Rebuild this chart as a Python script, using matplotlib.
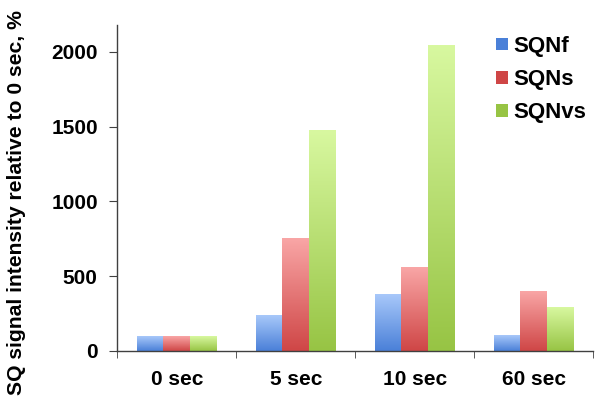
import numpy as np
import matplotlib
matplotlib.use("Agg")
import matplotlib.pyplot as plt
from matplotlib.colors import LinearSegmentedColormap
from matplotlib.patches import Patch


categories = ["0 sec", "5 sec", "10 sec", "60 sec"]

series_names = ["SQNf", "SQNs", "SQNvs"]

sqnf = [100, 236, 381, 105]
sqns = [100, 753, 559, 396]
sqnvs = [100, 1477, 2042, 292]

y_ticks = [0, 500, 1000, 1500, 2000]

# (bottom colour, top colour) for each series
gradients = [
    ("#4a80d8", "#a8c8fa"),
    ("#cf4646", "#f9a6a6"),
    ("#97c444", "#d8f8a0"),
]

plt.rcParams["font.family"] = ["Liberation Sans", "DejaVu Sans"]
plt.rcParams["font.weight"] = "bold"

fig = plt.figure(figsize=(6.01, 4.07), dpi=100)
ax = fig.add_axes([0.195, 0.1376, 0.792, 0.801])

x = np.arange(len(categories))
width = 0.225
offsets = [-width, 0, width]

grad = np.linspace(0, 1, 256).reshape(-1, 1)

for values, offset, (c0, c1) in zip([sqnf, sqns, sqnvs], offsets, gradients):
    cmap = LinearSegmentedColormap.from_list("g", [c0, c1])
    for xi, v in zip(x, values):
        x0 = xi + offset - width / 2
        ax.imshow(
            grad,
            cmap=cmap,
            origin="lower",
            extent=[x0, x0 + width, 0, v],
            aspect="auto",
            zorder=2,
        )

ax.set_xlim(-0.5, 3.5)
ax.set_ylim(0, 2180)

ax.set_xticks(x)
ax.set_xticklabels(categories, fontsize=15, fontweight="bold")
ax.tick_params(axis="x", which="major", length=0, pad=14)
ax.set_xticks(np.arange(-0.5, 4.0, 1.0), minor=True)
ax.tick_params(axis="x", which="minor", length=5, color="#404040")

ax.set_yticks(y_ticks)
ax.set_yticklabels([str(t) for t in y_ticks], fontsize=15, fontweight="bold")
ax.tick_params(axis="y", length=6, color="#404040", pad=8)

# y label placed on the figure, centred like the reference
fig.text(
    16.5 / 601,
    1 - 203 / 407,
    "SQ signal intensity relative to 0 sec, %",
    rotation=90,
    ha="center",
    va="center",
    fontsize=15.2,
    fontweight="bold",
)

for side in ["top", "right"]:
    ax.spines[side].set_visible(False)
for side in ["left", "bottom"]:
    ax.spines[side].set_color("#404040")
    ax.spines[side].set_linewidth(1.0)

handles = [
    Patch(facecolor=c0, edgecolor="none") for c0, c1 in gradients
]
fig.legend(
    handles,
    series_names,
    loc="upper left",
    bbox_to_anchor=(496 / 601, 1 - 36 / 407),
    frameon=False,
    prop={"weight": "bold", "size": 16},
    borderpad=0,
    borderaxespad=0,
    handlelength=0.55,
    handleheight=0.5,
    handletextpad=0.25,
    labelspacing=0.55,
)

fig.savefig("out.png", dpi=100)
